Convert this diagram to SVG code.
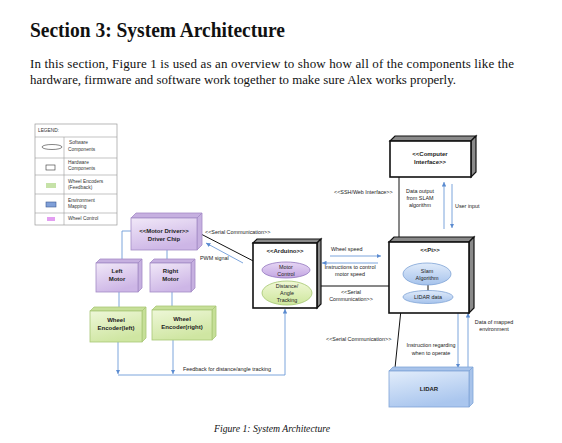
<svg xmlns="http://www.w3.org/2000/svg" width="562" height="443" viewBox="0 0 562 443">
<defs>
<style>
.ser{font-family:"Liberation Serif","Times New Roman",serif;fill:#111}
.t{font-family:"Liberation Sans",Arial,sans-serif;font-size:5.4px;fill:#222}
.lg{font-family:"Liberation Sans",Arial,sans-serif;font-size:4.8px;fill:#333}
.nb{font-family:"Liberation Sans",Arial,sans-serif;font-size:6px;font-weight:bold;fill:#222;text-anchor:middle}
.c{text-anchor:middle}
.blk{stroke:#111;stroke-width:1;fill:none}
.blu{stroke:#6e9bd8;stroke-width:0.9;fill:none}
.pf{fill:url(#gP);stroke:#a48cc6;stroke-width:0.8}
.ps{fill:#c6b0e0;stroke:#a48cc6;stroke-width:0.8}
.gf{fill:url(#gG);stroke:#a9c777;stroke-width:0.8}
.gs{fill:#c6df98;stroke:#a9c777;stroke-width:0.8}
.bf{fill:url(#gB);stroke:#7fa4d8;stroke-width:0.8}
.bs{fill:#a8c3ea;stroke:#7fa4d8;stroke-width:0.8}
.kf{fill:#fff;stroke:#111;stroke-width:1.6}
.ks{fill:#8a8a8a;stroke:#111;stroke-width:1.2}
</style>
<linearGradient id="gP" x1="0" y1="0" x2="0.4" y2="1"><stop offset="0" stop-color="#f1e8f8"/><stop offset="1" stop-color="#cdb6e6"/></linearGradient>
<linearGradient id="gG" x1="0" y1="0" x2="0.4" y2="1"><stop offset="0" stop-color="#eef7d8"/><stop offset="1" stop-color="#cfe6a2"/></linearGradient>
<linearGradient id="gB" x1="0" y1="0" x2="0.4" y2="1"><stop offset="0" stop-color="#e2edfb"/><stop offset="1" stop-color="#aac6ee"/></linearGradient>
<linearGradient id="eP" x1="0" y1="0" x2="0" y2="1"><stop offset="0" stop-color="#e6d6f4"/><stop offset="1" stop-color="#c3a6e2"/></linearGradient>
<linearGradient id="eG" x1="0" y1="0" x2="0" y2="1"><stop offset="0" stop-color="#f0f8d6"/><stop offset="1" stop-color="#cde69c"/></linearGradient>
<linearGradient id="eB" x1="0" y1="0" x2="0" y2="1"><stop offset="0" stop-color="#e0ebfa"/><stop offset="1" stop-color="#a6c3ec"/></linearGradient>
<marker id="ah" viewBox="0 0 6 6" refX="6" refY="3" markerWidth="4.5" markerHeight="4.5" orient="auto" markerUnits="userSpaceOnUse"><path d="M0,0 L6,3 L0,6 z" fill="#5b8bd0"/></marker>
</defs>
<rect width="562" height="443" fill="#fff"/>

<text class="ser" x="30" y="37" font-size="20" font-weight="bold" textLength="255" lengthAdjust="spacingAndGlyphs">Section 3: System Architecture</text>
<text class="ser" x="30" y="68" font-size="13" textLength="484" lengthAdjust="spacing">In this section, Figure 1 is used as an overview to show how all of the components like the</text>
<text class="ser" x="30" y="84" font-size="13" textLength="426" lengthAdjust="spacingAndGlyphs">hardware, firmware and software work together to make sure Alex works properly.</text>
<text class="ser" x="272" y="432" font-size="9.5" font-style="italic" text-anchor="middle" textLength="116" lengthAdjust="spacingAndGlyphs">Figure 1: System Architecture</text>

<g id="legend">
<rect x="35" y="124" width="82" height="101" fill="#fff" stroke="#9a9a9a" stroke-width="0.7"/>
<path d="M35,137 H117 M35,158 H117 M35,175 H117 M35,194 H117 M35,213 H117 M64,137 V225" stroke="#9a9a9a" stroke-width="0.6" fill="none"/>
<text class="lg" x="38" y="132">LEGEND:</text>
<ellipse cx="52" cy="147" rx="10" ry="2.5" fill="#fff" stroke="#333" stroke-width="0.6"/>
<rect x="46" y="165" width="9" height="5" fill="#fff" stroke="#333" stroke-width="0.6"/>
<rect x="46" y="183" width="10" height="5" fill="#c6e2a8"/>
<rect x="46" y="202" width="10" height="5" fill="#7f9fd8" stroke="#3d5a92" stroke-width="0.6"/>
<rect x="47" y="217" width="8" height="4" fill="#e39ef2"/>
<text class="lg" x="69" y="144">Software</text><text class="lg" x="68" y="151">Components</text>
<text class="lg" x="68" y="164">Hardware</text><text class="lg" x="68" y="170">Components</text>
<text class="lg" x="68" y="183">Wheel Encoders</text><text class="lg" x="68" y="189">(Feedback)</text>
<text class="lg" x="68" y="202">Environment</text><text class="lg" x="68" y="208">Mapping</text>
<text class="lg" x="68" y="220">Wheel Control</text>
</g>

<g id="connectors">
<path class="blu" d="M131,231 H122 V259"/>
<path class="blu" d="M167,250 V259"/>
<path class="blu" d="M119,292 V307"/>
<path class="blu" d="M172,292 V306"/>
<path class="blu" d="M118,342 V374" marker-end="url(#ah)"/>
<path class="blu" d="M173,340 V374" marker-end="url(#ah)"/>
<path class="blu" d="M118,375 H285 V309" marker-end="url(#ah)"/>
<text class="t" x="183" y="371">Feedback for distance/angle tracking</text>
<path class="blk" d="M199,233 L263,266"/>
<text class="t" x="205" y="234">&lt;&lt;Serial Communication&gt;&gt;</text>
<path class="blu" d="M243,263 L206,243" marker-end="url(#ah)"/>
<text class="t" x="200" y="260">PWM signal</text>
<path class="blk" d="M321,286 H389"/>
<path class="blu" d="M330,256 H381" marker-end="url(#ah)"/>
<text class="t" x="331" y="251">Wheel speed</text>
<path class="blu" d="M378,263 H322" marker-end="url(#ah)"/>
<text class="t c" x="350" y="269">Instructions to control</text>
<text class="t c" x="350" y="276">motor speed</text>
<text class="t c" x="351" y="294">&lt;&lt;Serial</text>
<text class="t c" x="351" y="301">Communication&gt;&gt;</text>
<path class="blk" d="M399,177 V237"/>
<text class="t" x="334" y="194">&lt;&lt;SSH/Web Interface&gt;&gt;</text>
<text class="t c" x="420" y="193">Data output</text>
<text class="t c" x="420" y="200">from SLAM</text>
<text class="t c" x="420" y="207">algorithm</text>
<path class="blu" d="M444,229 V182" marker-end="url(#ah)"/>
<path class="blu" d="M452,184 V228" marker-end="url(#ah)"/>
<text class="t" x="455" y="208">User input</text>
<path class="blk" d="M402,300 L395,368"/>
<text class="t" x="326" y="341">&lt;&lt;Serial Communication&gt;&gt;</text>
<path class="blu" d="M458,313 V368" marker-end="url(#ah)"/>
<path class="blu" d="M468,368 V313" marker-end="url(#ah)"/>
<text class="t c" x="494" y="324">Data of mapped</text>
<text class="t c" x="494" y="331">environment</text>
<text class="t c" x="431" y="347">Instruction regarding</text>
<text class="t c" x="431" y="355">when to operate</text>
</g>

<g id="motor-driver">
<polygon class="ps" points="131,218 136,213 202,213 197,218"/>
<polygon class="ps" points="197,218 202,213 202,245 197,250"/>
<rect class="pf" x="131" y="218" width="66" height="32"/>
<text class="nb" x="164" y="233">&lt;&lt;Motor Driver&gt;&gt;</text>
<text class="nb" x="164" y="241">Driver Chip</text>
</g>
<g id="left-motor">
<polygon class="ps" points="96,263 100,259 142,259 138,263"/>
<polygon class="ps" points="138,263 142,259 142,288 138,292"/>
<rect class="pf" x="96" y="263" width="42" height="29"/>
<text class="nb" x="117" y="273">Left</text>
<text class="nb" x="117" y="281">Motor</text>
</g>
<g id="right-motor">
<polygon class="ps" points="150,263 154,259 195,259 191,263"/>
<polygon class="ps" points="191,263 195,259 195,288 191,292"/>
<rect class="pf" x="150" y="263" width="41" height="29"/>
<text class="nb" x="170.5" y="273">Right</text>
<text class="nb" x="170.5" y="281">Motor</text>
</g>
<g id="encoder-left">
<polygon class="gs" points="90,311 94,307 146,307 142,311"/>
<polygon class="gs" points="142,311 146,307 146,338 142,342"/>
<rect class="gf" x="90" y="311" width="52" height="31"/>
<text class="nb" x="116" y="322">Wheel</text>
<text class="nb" x="116" y="330">Encoder(left)</text>
</g>
<g id="encoder-right">
<polygon class="gs" points="152,310 156,306 216,306 212,310"/>
<polygon class="gs" points="212,310 216,306 216,336 212,340"/>
<rect class="gf" x="152" y="310" width="60" height="30"/>
<text class="nb" x="182" y="321">Wheel</text>
<text class="nb" x="182" y="329">Encoder(right)</text>
</g>
<g id="arduino">
<polygon class="ks" points="253,243 257,239 321,239 317,243"/>
<polygon class="ks" points="317,243 321,239 321,304 317,308"/>
<rect class="kf" x="253" y="243" width="64" height="65"/>
<text class="nb" x="285" y="253">&lt;&lt;Arduino&gt;&gt;</text>
<ellipse cx="286" cy="270" rx="24" ry="8" fill="url(#eP)" stroke="#9478bf" stroke-width="0.8"/>
<text class="t c" x="286" y="269">Motor</text>
<text class="t c" x="286" y="276">Control</text>
<ellipse cx="287" cy="293" rx="25" ry="12" fill="url(#eG)" stroke="#a3c56e" stroke-width="0.8"/>
<text class="t c" x="287" y="288">Distance/</text>
<text class="t c" x="287" y="295">Angle</text>
<text class="t c" x="287" y="302">Tracking</text>
</g>
<g id="pi">
<polygon class="ks" points="389,242 394,237 474,237 469,242"/>
<polygon class="ks" points="469,242 474,237 474,308 469,313"/>
<rect class="kf" x="389" y="242" width="80" height="71"/>
<text class="nb" x="430" y="252">&lt;&lt;Pi&gt;&gt;</text>
<path class="blk" d="M428,285 V291"/>
<ellipse cx="427" cy="274" rx="24" ry="11" fill="url(#eB)" stroke="#7fa3d6" stroke-width="0.8"/>
<text class="t c" x="427" y="273">Slam</text>
<text class="t c" x="427" y="280">Algorithm</text>
<ellipse cx="428" cy="297" rx="25" ry="6.5" fill="url(#eB)" stroke="#7fa3d6" stroke-width="0.8"/>
<text class="t c" x="428" y="299">LIDAR data</text>
</g>
<g id="computer-interface">
<polygon class="ks" points="390,141 395,136 476,136 471,141"/>
<polygon class="ks" points="471,141 476,136 476,172 471,177"/>
<rect class="kf" x="390" y="141" width="81" height="36"/>
<text class="nb" x="430" y="156">&lt;&lt;Computer</text>
<text class="nb" x="430" y="164">Interface&gt;&gt;</text>
</g>
<g id="lidar">
<polygon class="bs" points="389,371 393,367 473,367 469,371"/>
<polygon class="bs" points="469,371 473,367 473,403 469,407"/>
<rect class="bf" x="389" y="371" width="80" height="36"/>
<text class="nb" x="429" y="391">LIDAR</text>
</g>
</svg>
